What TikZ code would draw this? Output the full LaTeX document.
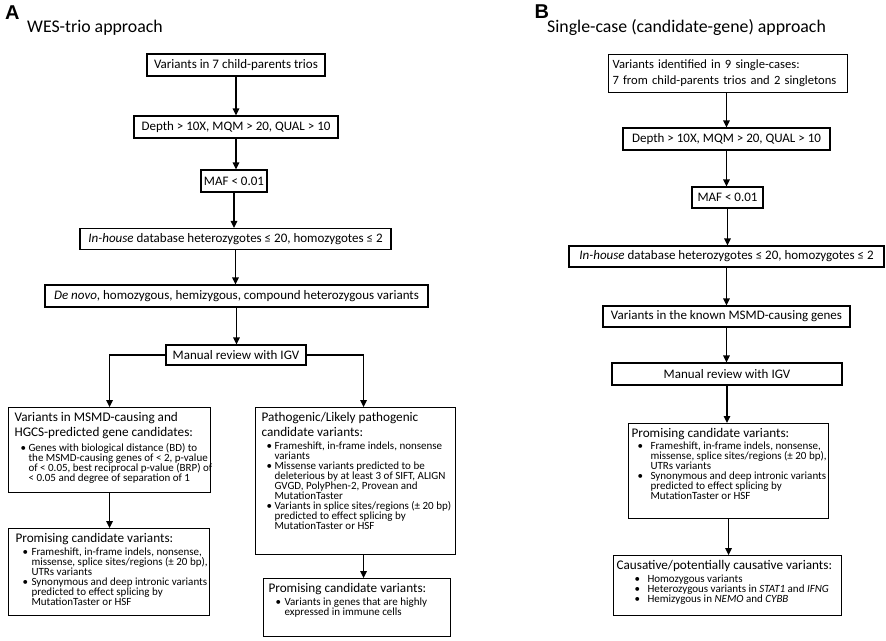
\documentclass[tikz,border=0pt]{standalone}
\usepackage{fontspec}
\setmainfont{Carlito}
\newfontfamily\panelfont{Liberation Sans}
\usetikzlibrary{arrows.meta}

% sizes of the texts
\newcommand{\ttl}{\fontsize{17.8}{19}\selectfont}
\newcommand{\hdr}{\fontsize{13.2}{15}\selectfont}
\newcommand{\sml}{\fontsize{11}{10}\selectfont}

% one line of a list: bullet line and continued line
\newlength\bulx
\newlength\bulw
\newcommand{\bul}[1]{\par\noindent\hspace*{\bulx}\makebox[\bulw][l]{\textbullet}\mbox{#1}}
\newcommand{\cnt}[1]{\par\noindent\hspace*{\bulx}\hspace*{\bulw}\mbox{#1}}
% text of a list box, kept at its top
\newcommand{\lst}[3]{\parbox[t][#2][t]{#1}{#3}}

\tikzset{
  box/.style={draw, line width=1.1pt, inner sep=0pt, font=\fontsize{13}{15}\selectfont},
  listbox/.style={draw, line width=1.1pt, anchor=north west, inner ysep=5pt},
  flow/.style={line width=1.4pt, -{Triangle[length=7pt,width=6.5pt]}},
}

\begin{document}
\begin{tikzpicture}[x=1pt,y=-1pt]
        \useasboundingbox (0,0) rectangle (886,640);

        % panel A
        \node[anchor=base west, font=\panelfont\bfseries\fontsize{20}{20}\selectfont] (labA) at (1.5,19) {A};
        \node[anchor=base west, font=\ttl, inner sep=0pt] (titleA) at (27,32) {WES-trio approach};

        \node[box, minimum width=178pt, minimum height=22pt] (a1) at (236,65) {Variants in 7 child-parents trios};
        \node[box, minimum width=204pt, minimum height=22pt] (a2) at (236,127) {Depth > 10X, MQM > 20, QUAL > 10};
        \node[box, minimum width=66pt, minimum height=22pt] (a3) at (234,181) {MAF < 0.01};
        \node[box, minimum width=311pt, minimum height=21pt] (a4) at (235.5,239) {\textit{In-house}\ database heterozygotes ≤ 20, homozygotes ≤ 2};
        \node[box, minimum width=383pt, minimum height=22pt] (a5) at (236.5,296) {\textit{De novo}, homozygous, hemizygous, compound heterozygous variants};
        \node[box, minimum width=140pt, minimum height=20pt] (a6) at (236,355) {Manual review with IGV};

        \node[listbox, inner xsep=6pt] (a7) at (8,407) {\lst{190pt}{75pt}{%
          \setlength\bulx{6pt}\setlength\bulw{8pt}%
          {\hdr Variants in MSMD-causing and\\ HGCS-predicted gene candidates:\par}
          \vspace{3pt}\sml
          \bul{Genes with biological distance (BD) to}
          \cnt{the MSMD-causing genes of < 2, p-value}
          \cnt{of < 0.05, best reciprocal p-value (BRP) of}
          \cnt{< 0.05 and degree of separation of 1}}};
        \node[listbox, inner xsep=6pt] (a8) at (255,407) {\lst{188pt}{137pt}{%
          \setlength\bulx{5pt}\setlength\bulw{8pt}%
          {\hdr Pathogenic/Likely pathogenic\\ candidate variants:\par}
          \vspace{3pt}\sml
          \bul{Frameshift, in-frame indels, nonsense}
          \cnt{variants}
          \bul{Missense variants predicted to be}
          \cnt{deleterious by at least 3 of SIFT, ALIGN}
          \cnt{GVGD, PolyPhen-2, Provean and}
          \cnt{MutationTaster}
          \bul{Variants in splice sites/regions (± 20 bp)}
          \cnt{predicted to effect splicing by}
          \cnt{MutationTaster or HSF}}};
        \node[listbox, inner xsep=7pt] (a9) at (8,528) {\lst{187pt}{77pt}{%
          \setlength\bulx{7pt}\setlength\bulw{9pt}%
          {\hdr Promising candidate variants:\par}
          \vspace{3pt}\sml
          \bul{Frameshift, in-frame indels, nonsense,}
          \cnt{missense, splice sites/regions (± 20 bp),}
          \cnt{UTRs variants}
          \bul{Synonymous and deep intronic variants}
          \cnt{predicted to effect splicing by}
          \cnt{MutationTaster or HSF}}};
        \node[listbox, inner xsep=5pt] (a10) at (263,578) {\lst{177pt}{48pt}{%
          \setlength\bulx{7pt}\setlength\bulw{9pt}%
          {\hdr Promising candidate variants:\par}
          \vspace{3pt}\sml
          \bul{Variants in genes that are highly}
          \cnt{expressed in immune cells}}};

        \draw[flow] (a1) -- (a1 |- a2.north);
        \draw[flow] (a2) -- (a2 |- a3.north);
        \draw[flow] (a3) -- (a3 |- a4.north);
        \draw[flow] (a4) -- (a4 |- a5.north);
        \draw[flow] (a5) -- (a5 |- a6.north);
        \draw[flow] (a6.west) -| (a7.north);
        \draw[flow] (a6.east) -| ([xshift=8pt]a8.north);
        \draw[flow] (a7) -- (a7 |- a9.north);
        \draw[flow] ([xshift=8pt]a8.south) -- ([xshift=8pt]a8.south |- a10.north);

        % panel B
        \node[anchor=base west, font=\panelfont\bfseries\fontsize{20}{20}\selectfont] (labB) at (531,18) {B};
        \node[anchor=base west, font=\ttl, inner sep=0pt] (titleB) at (547,32) {Single-case (candidate-gene) approach};

        \node[draw, line width=1.1pt, anchor=north west, align=left, font=\fontsize{12.6}{16}\selectfont, inner xsep=4pt, inner ysep=0pt, text width=231pt, minimum height=38pt] (b1) at (608,54)
          {Variants identified in 9 single-cases:\\ 7 from child-parents trios and 2 singletons};
        \node[box, minimum width=207pt, minimum height=22pt] (b2) at (726.5,139) {Depth > 10X, MQM > 20, QUAL > 10};
        \node[box, minimum width=71pt, minimum height=21pt] (b3) at (727.5,197.5) {MAF < 0.01};
        \node[box, minimum width=315pt, minimum height=21pt] (b4) at (726.5,256.5) {\textit{In-house}\ database heterozygotes ≤ 20, homozygotes ≤ 2};
        \node[box, minimum width=247pt, minimum height=21pt] (b5) at (726.5,316.5) {Variants in the known MSMD-causing genes};
        \node[box, minimum width=230pt, minimum height=22pt] (b6) at (727,374) {Manual review with IGV};

        \node[listbox, inner xsep=3pt] (b7) at (628,423) {\lst{194pt}{85pt}{%
          \setlength\bulx{6pt}\setlength\bulw{13pt}%
          {\hdr Promising candidate variants:\par}
          \vspace{2pt}\sml
          \bul{Frameshift, in-frame indels, nonsense,}
          \cnt{missense, splice sites/regions (± 20 bp),}
          \cnt{UTRs variants}
          \bul{Synonymous and deep intronic variants}
          \cnt{predicted to effect splicing by}
          \cnt{MutationTaster or HSF}}};
        \node[listbox, inner xsep=3pt] (b8) at (613,555) {\lst{222pt}{50pt}{%
          \setlength\bulx{18pt}\setlength\bulw{13pt}%
          {\hdr\mbox{Causative/potentially causative variants:}\par}
          \vspace{3pt}\sml
          \bul{Homozygous variants}
          \bul{Heterozygous variants in \textit{STAT1} and \textit{IFNG}}
          \bul{Hemizygous in \textit{NEMO} and \textit{CYBB}}}};

        \draw[flow] (b1.south -| b2) -- (b2.north);
        \draw[flow] (b2) -- (b2 |- b3.north);
        \draw[flow] (b3) -- (b3 |- b4.north);
        \draw[flow] (b4) -- (b4 |- b5.north);
        \draw[flow] (b5) -- (b5 |- b6.north);
        \draw[flow] (b6) -- (b6 |- b7.north);
        \draw[flow] (b7) -- (b7 |- b8.north);
    \end{tikzpicture}
\end{document}
